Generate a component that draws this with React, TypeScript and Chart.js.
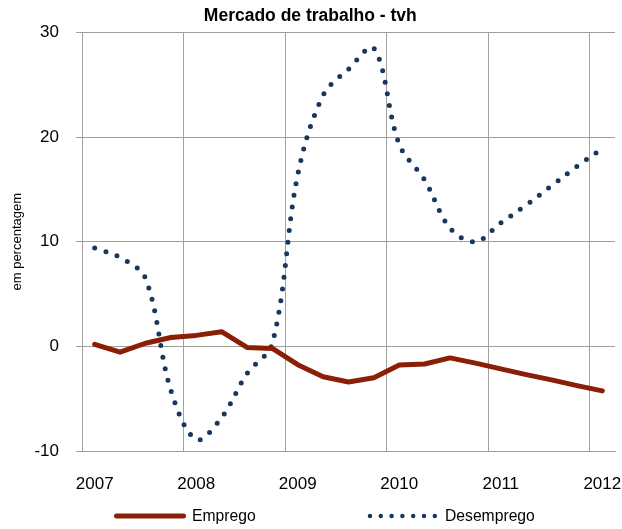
import React, { useEffect, useRef } from 'react';
import { Chart, registerables } from 'chart.js';

Chart.register(...registerables);

// ---- data ----
const years = ['2007', '2008', '2009', '2010', '2011', '2012'];
const quarters = ['T1', 'T2', 'T3', 'T4'];
const categories = years.flatMap((y) => quarters.map((q) => `${y} ${q}`)).slice(0, 21);

const emprego = [
  0.2, -0.55, 0.3, 0.85,
  1.05, 1.4, -0.1, -0.2,
  -1.75, -2.9, -3.4, -3.0,
  -1.78, -1.68, -1.1, -1.6,
  -2.15, -2.7, -3.2, -3.75,
  -4.25,
];
const desemprego = [
  9.4, 8.5, 6.5, -4.2,
  -8.9, -6.8, -2.6, 0.3,
  16.4, 24.0, 26.5, 28.5,
  19.3, 15.9, 11.3, 10.0,
  11.8, 13.5, 15.35, 17.2,
  18.9,
];
const yMin = -10;
const yMax = 30;
const yStep = 10;

const seriesNames = ['Emprego', 'Desemprego'];
const chartTitle = 'Mercado de trabalho - tvh';
const yTitle = 'em percentagem';

const FONT = "'Liberation Sans', Arial, sans-serif";
const RED = '#8B1E06';
const BLUE = '#17375E';
const GRID = '#a0a0a0';

const legendPlugin = {
  id: 'customLegend',
  afterDraw(chart: any) {
    const ctx = chart.ctx as CanvasRenderingContext2D;
    const ds = chart.data.datasets;
    const y = 516;
    ctx.save();
    ctx.font = `15.7px ${FONT}`;
    ctx.textBaseline = 'middle';
    ctx.textAlign = 'left';
    ctx.fillStyle = '#000';
    // Emprego
    ctx.strokeStyle = ds[0].borderColor;
    ctx.lineWidth = 5;
    ctx.lineCap = 'round';
    ctx.beginPath();
    ctx.moveTo(116.5, y);
    ctx.lineTo(183.5, y);
    ctx.stroke();
    ctx.fillText(ds[0].label, 192, y + 1);
    // Desemprego
    ctx.strokeStyle = ds[1].borderColor;
    ctx.lineWidth = 4.5;
    ctx.setLineDash([0, 10.8]);
    ctx.beginPath();
    ctx.moveTo(370, y);
    ctx.lineTo(370 + 6 * 10.8 + 0.2, y);
    ctx.stroke();
    ctx.setLineDash([]);
    ctx.fillText(ds[1].label, 445, y + 1);
    ctx.restore();
  },
};

export default function App() {
  const ref = useRef<HTMLCanvasElement | null>(null);

  useEffect(() => {
    if (!ref.current) return;
    const chart = new Chart(ref.current, {
      type: 'line',
      data: {
        labels: categories,
        datasets: [
          {
            label: seriesNames[0],
            data: emprego,
            borderColor: RED,
            backgroundColor: RED,
            borderWidth: 5,
            borderCapStyle: 'round',
            borderJoinStyle: 'round',
            pointRadius: 0,
            tension: 0,
            fill: false,
          },
          {
            label: seriesNames[1],
            data: desemprego,
            borderColor: BLUE,
            backgroundColor: BLUE,
            borderWidth: 5,
            borderDash: [0, 11.8],
            borderCapStyle: 'round',
            pointRadius: 0,
            tension: 0.35,
            fill: false,
          },
        ],
      },
      options: {
        responsive: false,
        animation: false,
        layout: { padding: { left: 5.6, right: 7, top: 0, bottom: 33 } },
        plugins: {
          legend: { display: false },
          tooltip: { enabled: false },
          title: {
            display: true,
            text: chartTitle,
            color: '#000',
            font: { family: FONT, size: 17.5, weight: 'bold' },
            padding: { top: 5.5, bottom: 6 },
          },
        },
        scales: {
          x: {
            type: 'category',
            offset: true,
            grid: {
              offset: true,
              drawTicks: false,
              color: (c: any) => (c.index % 4 === 0 || c.index === categories.length ? GRID : 'rgba(0,0,0,0)'),
              lineWidth: 1,
            },
            border: { display: true, color: GRID, width: 1 },
            ticks: {
              autoSkip: false,
              maxRotation: 0,
              minRotation: 0,
              padding: 23,
              color: '#000',
              font: { family: FONT, size: 17 },
              callback: (_v: any, i: number) => (i % 4 === 0 ? years[i / 4] : ''),
            },
            afterFit: (s: any) => {
              s.height = 45;
              s.paddingLeft = 0;
              s.paddingRight = 0;
            },
          },
          y: {
            min: yMin,
            max: yMax,
            grid: { color: GRID, lineWidth: 1, drawTicks: true, tickLength: 6 },
            border: { display: true, color: GRID, width: 1 },
            ticks: {
              stepSize: yStep,
              padding: 17,
              color: '#000',
              font: { family: FONT, size: 17 },
            },
            title: {
              display: true,
              text: yTitle,
              color: '#000',
              font: { family: FONT, size: 13 },
              padding: { top: 4, bottom: 4 },
            },
            afterFit: (s: any) => {
              s.width = 76.4;
            },
          },
        },
      },
      plugins: [legendPlugin],
    } as any);
    return () => chart.destroy();
  }, []);

  return (
    <div style={{ position: 'fixed', left: 0, top: 0, width: 622, height: 529, background: '#fff' }}>
      <canvas ref={ref} width={622} height={529} style={{ width: 622, height: 529, display: 'block' }} />
    </div>
  );
}
